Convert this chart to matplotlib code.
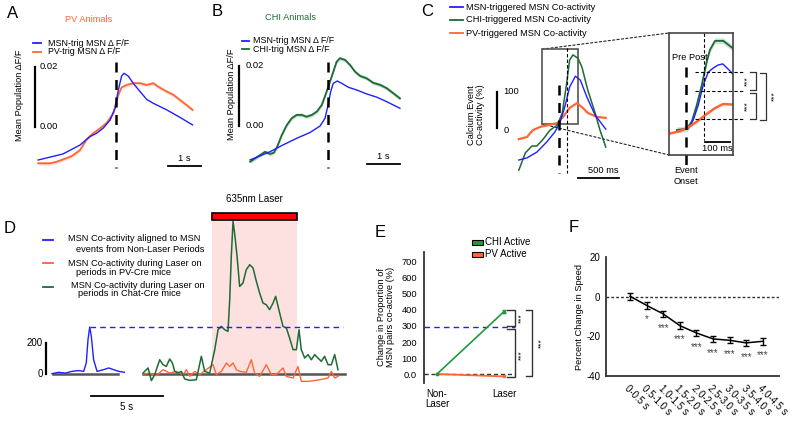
import numpy as np
import matplotlib
matplotlib.use('Agg')
import matplotlib.pyplot as plt
from matplotlib.lines import Line2D
from matplotlib.patches import Rectangle, ConnectionPatch

plt.rcParams['font.family'] = ['Liberation Sans', 'DejaVu Sans']
plt.rcParams['axes.unicode_minus'] = False

BLUE = '#2020ff'
GREEN = '#1d6b35'
ORANGE = '#ff6633'
EGREEN = '#1f9a3f'

# ---- A: PV animals (time s, mean dF/F)
a_t_msn = [-2.36, -1.61, -1.09, -0.79, -0.59, -0.39, -0.18, -0.03, 0.07, 0.17, 0.24,
           0.37, 0.52, 0.73, 0.93, 1.13, 1.54, 1.94, 2.32]
a_msn = [-0.0110, -0.0090, -0.0060, -0.0032, -0.0021, -0.0004, 0.0023, 0.0062, 0.0123,
         0.0170, 0.0179, 0.0170, 0.0146, 0.0118, 0.0092, 0.0079, 0.0057, 0.0032, 0.0007]
a_t_pv = [-2.36, -2.00, -1.80, -1.60, -1.34, -1.09, -0.89, -0.69, -0.48, -0.28, -0.08, 0.0,
          0.07, 0.17, 0.32, 0.52, 0.73, 0.93, 1.13, 1.28, 1.54, 1.74, 1.94, 2.14, 2.32]
a_pv = [-0.0121, -0.0121, -0.0116, -0.0108, -0.0097, -0.0077, -0.0041, -0.0021, -0.0004,
        0.0014, 0.0046, 0.0079, 0.0107, 0.0132, 0.0140, 0.0146, 0.0146, 0.0140, 0.0146,
        0.0134, 0.0118, 0.0107, 0.0090, 0.0073, 0.0057]

# ---- B: CHI animals
b_t_msn = [-2.36, -1.76, -1.36, -0.95, -0.55, -0.24, -0.09, -0.01, 0.08, 0.16, 0.28, 0.42,
           0.62, 0.87, 1.17, 1.48, 1.78, 2.18]
b_msn = [-0.0113, -0.0086, -0.0063, -0.0041, -0.0022, 0.0, 0.0026, 0.0064, 0.0114, 0.0142,
         0.0150, 0.0142, 0.0129, 0.0120, 0.0107, 0.0096, 0.0081, 0.0059]
b_t_chi = [-2.36, -2.21, -2.06, -1.91, -1.76, -1.64, -1.54, -1.40, -1.25, -1.10, -0.95, -0.80,
           -0.65, -0.49, -0.34, -0.19, -0.06, 0.06, 0.16, 0.26, 0.36, 0.52, 0.67, 0.82, 0.97,
           1.17, 1.37, 1.58, 1.78, 1.98, 2.18]
b_chi = [-0.0119, -0.0108, -0.0097, -0.0086, -0.0093, -0.0089, -0.0069, -0.0030, 0.0003,
         0.0026, 0.0037, 0.0037, 0.0031, 0.0037, 0.0048, 0.0070, 0.0109, 0.0148, 0.0181,
         0.0214, 0.0226, 0.0220, 0.0203, 0.0181, 0.0167, 0.0159, 0.0144, 0.0137, 0.0126,
         0.0109, 0.0092]

# ---- C: triggered co-activity (time s, %)
c_t_msn = [-0.49, -0.39, -0.27, -0.15, -0.05, 0.01, 0.07, 0.13, 0.20, 0.26, 0.34, 0.44, 0.57]
c_msn = [-89, -83, -67, -39, -11, 14, 58, 114, 144, 133, 86, 36, -3]
c_t_chi = [-0.49, -0.41, -0.33, -0.27, -0.20, -0.11, -0.02, 0.04, 0.09, 0.13, 0.17, 0.23,
           0.28, 0.35, 0.44, 0.50, 0.57]
c_chi = [-117, -69, -50, -50, -33, -6, 8, 42, 119, 189, 203, 194, 169, 106, 42, -6, -53]
c_t_pv = [-0.49, -0.39, -0.32, -0.23, -0.13, -0.02, 0.05, 0.13, 0.22, 0.28, 0.35, 0.46, 0.57]
c_pv = [-31, -25, -6, 3, 8, 14, 31, 56, 69, 58, 42, 31, 28]

# inset (time ms, %)
i_t_chi = [-37, 3, 23, 43, 63, 83, 96, 116, 149, 189]
i_chi = [56, 58, 70, 98, 132, 172, 192, 207, 207, 194]
i_t_msn = [9, 29, 49, 69, 89, 109, 128, 147, 169, 187]
i_msn = [58, 73, 98, 132, 154, 161, 166, 168, 159, 151]
i_t_pv = [-64, -24, 9, 43, 83, 116, 149, 187]
i_pv = [50, 54, 60, 70, 83, 93, 100, 99]
i_levels = [155, 122, 74]

# ---- D: co-activity around laser (time s, %)
d_t_msn = [0, 0.46, 0.93, 1.39, 1.85, 2.2, 2.38, 2.5, 2.62, 2.73, 2.89, 3.13, 3.59, 3.94,
           4.28, 4.63, 5.02]
d_msn = [2, 11, 6, 17, 22, 17, 71, 222, 303, 243, 92, 17, 28, 39, 28, 17, 11]
d_t_chi = [-4.79, -4.44, -4.21, -3.98, -3.63, -3.40, -3.17, -2.94, -2.75, -2.59, -2.36, -2.13,
           -1.90, -1.55, -1.09, -0.74, -0.51, -0.16, 0.19, 0.42, 0.65, 0.88, 1.11, 1.23, 1.34,
           1.46, 1.57, 1.74, 1.92, 2.15, 2.38, 2.62, 2.85, 3.08, 3.31, 3.54, 3.77, 4.00, 4.24,
           4.42, 4.70, 4.93, 5.16, 5.39, 5.63, 5.86, 6.04, 6.20, 6.44, 6.67, 6.90, 7.13, 7.36,
           7.59, 7.82, 8.06, 8.29, 8.52, 8.75]
d_chi = [6, 39, -43, -4, 92, 60, 49, 97, 71, 17, 6, 17, -32, -41, -37, 114, 17, 6, 157, 286,
         307, 286, 275, 479, 759, 985, 909, 759, 565, 587, 673, 705, 684, 598, 522, 458, 447,
         415, 458, 501, 393, 307, 297, 232, 157, 157, 286, 157, 103, 125, 92, 125, 103, 82,
         114, 60, 60, 125, 28]
d_t_pv = [-4.79, -4.33, -3.87, -3.40, -2.94, -2.48, -2.01, -1.78, -1.55, -1.20, -0.86, -0.39,
          0.07, 0.30, 0.65, 1.00, 1.23, 1.46, 1.69, 1.92, 2.38, 2.73, 2.96, 3.31, 3.77, 4.12,
          4.47, 4.93, 5.16, 5.63, 5.97, 6.20, 6.78, 7.48, 8.06, 8.29, 8.52, 8.75]
d_pv = [0, 6, -11, 28, 6, 17, -4, 28, -15, 17, -4, 28, 60, -4, 17, 71, 49, 71, 28, 17, 11,
        92, 6, -15, 60, -4, -4, 39, -15, -26, 49, -47, -47, -37, -26, 17, -26, -15]
laser_len = 5.9

# ---- E: change in proportion of co-active pairs (%)
e_conditions = ['Non-\nLaser', 'Laser']
e_chi = [0, 390]
e_pv = [0, -15]
e_msn_peak = 294

# ---- F: speed change
f_bins = ['0-0.5 s', '0.5-1.0 s', '1.0-1.5 s', '1.5-2.0 s', '2.0-2.5 s', '2.5-3.0 s',
          '3.0-3.5 s', '3.5-4.0 s', '4.0-4.5 s']
f_mean = [0.2, -4.4, -8.7, -14.6, -18.3, -21.3, -22.0, -23.3, -22.5]
f_sem = [1.8, 1.6, 1.7, 1.6, 1.6, 1.6, 1.5, 1.6, 1.7]
f_sig = ['', '*', '***', '***', '***', '***', '***', '***', '***']

W, H = 800, 423
fig = plt.figure(figsize=(W / 100, H / 100), dpi=100)
FS = 6.7


def flat_ax(l, t, r, b, x0, xs, y0, ys):
    # axes placed in pixel box; data 0 sits at pixel x0/y0, xs/ys px per unit
    ax = fig.add_axes([l / W, 1 - b / H, (r - l) / W, (b - t) / H])
    ax.set_xlim((l - x0) / xs, (r - x0) / xs)
    ax.set_ylim((y0 - b) / ys, (y0 - t) / ys)
    ax.axis('off')
    return ax


def ftext(x, y, s, **kw):
    kw.setdefault('fontsize', FS)
    kw.setdefault('va', 'center')
    fig.text(x / W, 1 - y / H, s, **kw)


def fline(x1, x2, y, color, lw=1.3):
    fig.add_artist(Line2D([x1 / W, x2 / W], [1 - y / H, 1 - y / H], color=color, lw=lw))


onset_kw = dict(color='k', lw=1.8, dashes=(4, 3))
post_kw = dict(color='k', lw=0.8, dashes=(3, 2))

# ================= A
ftext(13, 13, 'A', fontsize=12, ha='center')
ftext(89, 20, 'PV Animals', color=ORANGE, ha='center')
fline(33, 41, 43, BLUE)
fline(33, 41, 52, ORANGE)
ftext(48, 43, 'MSN-trig MSN Δ F/F', fontsize=6.4)
ftext(48, 52, 'PV-trig MSN Δ F/F', fontsize=6.4)
ftext(20, 95, 'Mean Population ΔF/F', rotation=90, ha='center')
axA = flat_ax(25, 55, 205, 175, 116, 33, 127, 3000)
pv = np.array(a_pv)
axA.fill_between(a_t_pv, pv - 0.0006, pv + 0.0006, color=ORANGE, alpha=0.2, lw=0)
axA.plot(a_t_pv, a_pv, color=ORANGE, lw=1.3)
axA.plot(a_t_msn, a_msn, color=BLUE, lw=1.0)
axA.plot([0, 0], [0.0217, -0.0137], **onset_kw)
axA.plot([-2.45, -2.45], [0, 0.02], color='k', lw=1.6)
axA.text(-2.3, 0.0203, '0.02', fontsize=FS, va='center')
axA.text(-2.3, 0.0003, '0.00', fontsize=FS, va='center')
axA.plot([1.58, 2.58], [-0.0130, -0.0130], color='k', lw=1.3, clip_on=False)
axA.text(2.08, -0.0104, '1 s', fontsize=FS, ha='center', va='center')

# ================= B
ftext(217, 12, 'B', fontsize=12, ha='center')
ftext(291, 18, 'CHI Animals', color=GREEN, ha='center')
fline(242, 249, 41, BLUE)
fline(242, 249, 49, GREEN)
ftext(253, 40.5, 'MSN-trig MSN Δ F/F', fontsize=6.4)
ftext(253, 49.5, 'CHI-trig MSN Δ F/F', fontsize=6.4)
ftext(232, 94, 'Mean Population ΔF/F', rotation=90, ha='center')
axB = flat_ax(225, 55, 405, 175, 328, 33, 126, 3000)
chi = np.array(b_chi)
axB.fill_between(b_t_chi, chi - 0.0006, chi + 0.0006, color=GREEN, alpha=0.25, lw=0)
axB.plot(b_t_chi, b_chi, color=GREEN, lw=1.3)
axB.plot(b_t_msn, b_msn, color=BLUE, lw=1.0)
axB.plot([0, 0], [0.0213, -0.0140], **onset_kw)
axB.plot([-2.7, -2.7], [0, 0.02], color='k', lw=1.6)
axB.text(-2.5, 0.0203, '0.02', fontsize=FS, va='center')
axB.text(-2.5, 0.0003, '0.00', fontsize=FS, va='center')
axB.plot([1.18, 2.18], [-0.0127, -0.0127], color='k', lw=1.3, clip_on=False)
axB.text(1.68, -0.0103, '1 s', fontsize=FS, ha='center', va='center')

# ================= C
ftext(427, 12, 'C', fontsize=12, ha='center')
for yy, col, lab in [(7, BLUE, 'MSN-triggered MSN Co-activity'),
                     (20, GREEN, 'CHI-triggered MSN Co-activity'),
                     (33, ORANGE, 'PV-triggered MSN Co-activity')]:
    fline(450, 463, yy, col)
    ftext(466, yy, lab)
ftext(476, 115, 'Calcium Event\nCo-activity (%)', rotation=90, ha='center', linespacing=1.1)

axC = flat_ax(490, 40, 625, 190, 559, 82, 128, 0.36)
axC.plot(c_t_pv, c_pv, color=ORANGE, lw=1.6)
axC.plot(c_t_chi, c_chi, color=GREEN, lw=1.1)
axC.plot(c_t_msn, c_msn, color=BLUE, lw=1.0)
axC.plot([0, 0], [119, -125], **onset_kw)
axC.plot([0.1, 0.1], [222, -125], **post_kw)
rx0, rx1, ry0, ry1 = -0.207, 0.232, 11, 219
axC.add_patch(Rectangle((rx0, ry0), rx1 - rx0, ry1 - ry0, fill=False, ec='#555555', lw=1.2))
axC.plot([-0.756, -0.756], [0, 100], color='k', lw=1.6)
axC.text(-0.68, 100, '100', fontsize=FS, va='center')
axC.text(-0.68, -8, '0', fontsize=FS, va='center')
axC.plot([0.23, 0.73], [-139, -139], color='k', lw=1.3, clip_on=False)
axC.text(0.54, -119, '500 ms', fontsize=FS, ha='center', va='center')

# inset
axI = flat_ax(669, 33, 733, 155, 686, 0.25, 163, 0.59)
axI.axis('on')
axI.set_xticks([])
axI.set_yticks([])
for sp in axI.spines.values():
    sp.set_color('#444444')
    sp.set_linewidth(1.2)
ichi = np.array(i_chi)
axI.fill_between(i_t_chi, ichi - 5, ichi + 5, color=GREEN, alpha=0.2, lw=0)
axI.plot(i_t_chi, i_chi, color=GREEN, lw=1.3)
axI.plot(i_t_msn, i_msn, color=BLUE, lw=1.0)
axI.plot(i_t_pv, i_pv, color=ORANGE, lw=1.8)
axI.plot([0, 0], [163, -5], clip_on=False, **onset_kw)
axI.plot([70, 70], [220, 39], **post_kw)
for lv in i_levels:
    axI.plot([36, 228], [lv, lv], color='k', lw=0.8, dashes=(3, 2), clip_on=False)
br = dict(color='#333333', lw=0.9, clip_on=False)
for ya, yb in [(154, 124), (118, 74)]:
    axI.plot([256, 280, 280, 256], [ya, ya, yb, yb], **br)
axI.plot([296, 320, 320, 296], [153, 153, 73, 73], **br)
for xx, yy in [(248, 139), (248, 96), (356, 113)]:
    axI.text(xx, yy, '***', fontsize=6, rotation=90, ha='center', va='center', clip_on=False)
axI.plot([75, 175], [36, 36], color='k', lw=1.3)
axI.text(125, 24, '100 ms', fontsize=FS, ha='center', va='center')
ftext(672, 57, 'Pre Post')
ftext(686, 176, 'Event\nOnset', ha='center', linespacing=1.2)

for xyA, xyB in [((rx0, ry1), (0, 1)), ((rx0, ry0), (0, 0))]:
    con = ConnectionPatch(xyA=xyA, coordsA=axC.transData, xyB=xyB, coordsB=axI.transAxes,
                          color='#222222', lw=0.8, ls=(0, (2, 2)), zorder=0)
    fig.add_artist(con)

# ================= D
ftext(10, 228, 'D', fontsize=12, ha='center')
d_leg = [(240, BLUE, [(68, 238, 'MSN Co-activity aligned to MSN'),
                      (76, 249, 'events from Non-Laser Periods')]),
         (263, ORANGE, [(68, 263, 'MSN Co-activity during Laser on'),
                        (76, 272, 'periods in PV-Cre mice')]),
         (287, GREEN, [(71, 285, 'MSN Co-activity during Laser on'),
                       (78, 294, 'periods in Chat-Cre mice')])]
for yy, col, lines in d_leg:
    fline(43, 53, yy, col)
    for xx, ty, s in lines:
        ftext(xx, ty, s)

axD = flat_ax(20, 195, 360, 412, 52, 14.4, 374, 0.155)
off = (212 - 52) / 14.4
axD.fill_between([off, off + laser_len], -8, 994, color='#fde0e0', lw=0, zorder=0)
axD.add_patch(Rectangle((off, 994), laser_len, 45, fc='#ff0000', ec='k', lw=1.2, zorder=3))
axD.text(off + laser_len / 2, 1129, '635nm Laser', fontsize=7, ha='center', va='center')
axD.plot([0.05, 4.58], [0, 0], color='#555555', lw=1.8)
axD.plot([off - 4.79, off + 9.24], [0, 0], color='#555555', lw=1.8)
axD.plot(d_t_msn, d_msn, color=BLUE, lw=1.0)
t_chi = np.array(d_t_chi) + off
t_pv = np.array(d_t_pv) + off
axD.plot(t_pv, d_pv, color=ORANGE, lw=1.0)
axD.plot(t_chi, d_chi, color=GREEN, lw=1.1)
pk = int(np.argmax(d_msn))
axD.plot([d_t_msn[pk], off + 9.1], [d_msn[pk], d_msn[pk]], color=BLUE, lw=1.0, dashes=(4, 3))
axD.plot([-0.42, -0.42], [0, 200], color='k', lw=1.6)
axD.text(-0.63, 200, '200', fontsize=7, ha='right', va='center')
axD.text(-0.63, 0, '0', fontsize=7, ha='right', va='center')
axD.plot([2.7, 7.7], [-142, -142], color='k', lw=1.3)
axD.text(5.2, -213, '5 s', fontsize=7, ha='center', va='center')

# ================= E
ftext(380, 232, 'E', fontsize=12, ha='center')
ftext(386, 317, 'Change in Proportion of\nMSN pairs co-active (%)', rotation=90, ha='center',
      linespacing=1.1)
axE = fig.add_axes([424 / W, 1 - 383 / H, (520 - 424) / W, (383 - 252) / H])
axE.set_xlim(-0.194, 1.239)
axE.set_ylim(-56, 762)
for s in ['top', 'right', 'bottom']:
    axE.spines[s].set_visible(False)
axE.spines['left'].set_linewidth(1.3)
axE.spines['left'].set_color('#333333')
axE.set_yticks(range(0, 800, 100))
axE.set_yticklabels(['0.0'] + [str(v) for v in range(100, 800, 100)])
axE.set_xticks([0, 1])
axE.set_xticklabels(e_conditions, linespacing=1.1)
axE.tick_params(axis='y', length=0, pad=5, labelsize=FS)
axE.tick_params(axis='x', length=0, pad=4, labelsize=7)
axE.patch.set_alpha(0)
axE.plot([-0.194, 1.164], [0, 0], color='#333333', lw=1.0, dashes=(3, 2))
axE.plot([-0.194, 1.164], [e_msn_peak, e_msn_peak], color=BLUE, lw=1.0, dashes=(4, 3))
axE.plot([0, 1], e_pv, color=ORANGE, lw=1.3, marker='s', ms=1.5)
axE.plot([0, 1], e_chi, color=EGREEN, lw=1.2, marker='s', ms=2)
axE.errorbar([1], [e_chi[1]], yerr=[12], color=EGREEN, lw=1, capsize=1.5)
brE = dict(color='#333333', lw=1.0, clip_on=False)
axE.plot([1.045, 1.164, 1.164, 1.045], [400, 400, 300, 300], **brE)
axE.plot([1.045, 1.164, 1.164, 1.045], [281, 281, -17, -17], **brE)
axE.plot([1.328, 1.422, 1.422, 1.328], [400, 400, -12, -12], **brE)
for xx, yy in [(1.264, 350), (1.264, 119), (1.563, 196)]:
    axE.text(xx, yy, '***', fontsize=6, rotation=90, ha='center', va='center', clip_on=False)
fig.add_artist(Rectangle((472 / W, 1 - 245 / H), 11 / W, 5 / H, fc=EGREEN, ec='k', lw=0.8,
                         transform=fig.transFigure))
fig.add_artist(Rectangle((472 / W, 1 - 257 / H), 11 / W, 5 / H, fc=ORANGE, ec='k', lw=0.8,
                         transform=fig.transFigure))
ftext(485, 242, 'CHI Active', fontsize=7)
ftext(485, 254, 'PV Active', fontsize=7)

# ================= F
ftext(574, 227, 'F', fontsize=12, ha='center')
ftext(580, 317, 'Percent Change in Speed', rotation=90, ha='center')
axF = fig.add_axes([606 / W, 1 - 376 / H, (779 - 606) / W, (376 - 257) / H])
axF.set_xlim(-1.45, 8.98)
axF.set_ylim(-40, 20)
for s in ['top', 'right']:
    axF.spines[s].set_visible(False)
for s in ['left', 'bottom']:
    axF.spines[s].set_linewidth(1.3)
    axF.spines[s].set_color('#333333')
axF.patch.set_alpha(0)
axF.set_yticks([-40, -20, 0, 20])
axF.tick_params(axis='y', length=0, pad=4, labelsize=7)
xs = np.arange(len(f_bins))
axF.set_xticks(xs)
axF.set_xticklabels(f_bins, rotation=-45, ha='left', rotation_mode='anchor')
axF.tick_params(axis='x', length=0, pad=5, labelsize=7)
axF.axhline(0, color='#333333', lw=1.0, dashes=(2, 1.5))
axF.errorbar(xs, f_mean, yerr=f_sem, color='k', lw=1.1, elinewidth=1, capsize=2)
for x, m, s in zip(xs, f_mean, f_sig):
    if s:
        axF.text(x, m - 7, s, fontsize=7, ha='center', va='center', color='#444444')

fig.savefig('out.png', dpi=100)
